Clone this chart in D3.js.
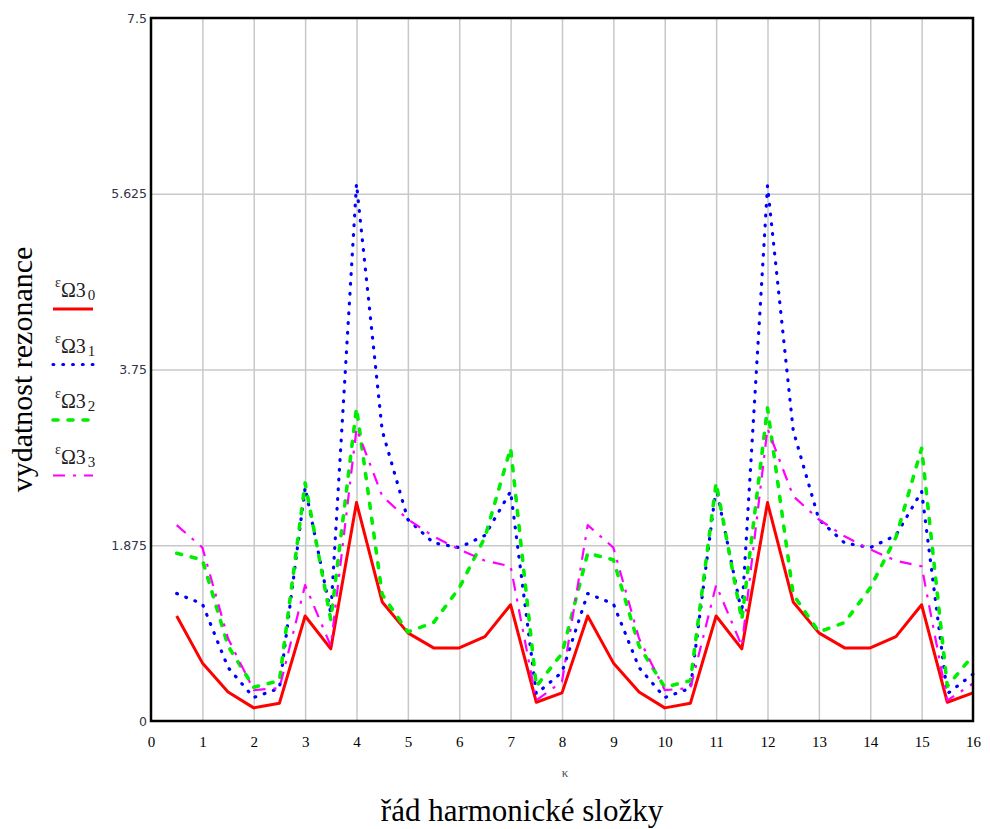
<!DOCTYPE html>
<html>
<head>
<meta charset="utf-8">
<script src="https://cdn.jsdelivr.net/npm/d3@7"></script>
<style>
  body { margin: 0; background: #fff; }
</style>
</head>
<body>
<div class="line-chart"></div>
<script>
// harmonic order (x values)
const kappa = [0.5, 1, 1.5, 2, 2.5, 3, 3.5, 4, 4.5, 5, 5.5, 6, 6.5, 7, 7.5, 8,
               8.5, 9, 9.5, 10, 10.5, 11, 11.5, 12, 12.5, 13, 13.5, 14, 14.5, 15, 15.5, 16];

const eps0 = [1.12, 0.62, 0.31, 0.14, 0.19, 1.12, 0.77, 2.33, 1.27, 0.94, 0.78, 0.78, 0.90, 1.24, 0.20, 0.30,
              1.12, 0.62, 0.31, 0.14, 0.19, 1.12, 0.77, 2.33, 1.27, 0.94, 0.78, 0.78, 0.90, 1.24, 0.20, 0.30];
const eps1 = [1.36, 1.25, 0.57, 0.25, 0.35, 2.49, 1.15, 5.73, 3.10, 2.15, 1.90, 1.85, 1.98, 2.45, 0.29, 0.52,
              1.36, 1.25, 0.57, 0.25, 0.35, 2.49, 1.15, 5.71, 3.10, 2.15, 1.90, 1.85, 1.98, 2.45, 0.29, 0.50];
const eps2 = [1.79, 1.72, 0.80, 0.36, 0.43, 2.54, 1.08, 3.34, 1.35, 0.95, 1.05, 1.42, 1.96, 2.91, 0.37, 0.72,
              1.79, 1.72, 0.80, 0.36, 0.43, 2.54, 1.08, 3.34, 1.35, 0.95, 1.05, 1.42, 1.96, 2.91, 0.37, 0.70];
const eps3 = [2.09, 1.85, 0.88, 0.33, 0.35, 1.45, 0.80, 3.12, 2.40, 2.15, 1.97, 1.83, 1.71, 1.65, 0.22, 0.42,
              2.09, 1.85, 0.88, 0.33, 0.35, 1.45, 0.80, 3.12, 2.40, 2.15, 1.97, 1.83, 1.71, 1.65, 0.22, 0.40];

const xTicks = d3.range(0, 17);
const yTicks = [0, 1.875, 3.75, 5.625, 7.5];
const seriesNames = ["0", "1", "2", "3"];

const margin = ({top: 18, right: 17, bottom: 108, left: 151});
const W = 990, H = 829;
const w = W - margin.left - margin.right;
const h = H - margin.top - margin.bottom;
const serif = "'Liberation Serif', 'Times New Roman', serif";

const styles = [
    {color: "#ff0000", width: 3, dash: null, cap: "butt"},
    {color: "#0000ff", width: 3.2, dash: "0.8,9", cap: "round"},
    {color: "#00ee00", width: 3.6, dash: "5,10", cap: "round"},
    {color: "#ff00ff", width: 2.2, dash: "12,8,3,8", cap: "butt"}
];

const series = [eps0, eps1, eps2, eps3].map((vals, i) => ({
    name: seriesNames[i],
    style: styles[i],
    values: kappa.map((k, j) => ({k: k, v: vals[j]}))
}));

const root = d3.select(".line-chart")
    .append("svg")
    .attr("width", W)
    .attr("height", H)
    .style("font-family", serif);

const svg = root.append("g")
    .attr("transform", "translate(" + margin.left + "," + margin.top + ")");

const xScale = d3.scaleLinear().domain([0, 16]).range([0, w]);
const yScale = d3.scaleLinear().domain([0, 7.5]).range([h, 0]);

// grid
svg.append("g")
    .attr("class", "grid x-grid")
    .attr("transform", `translate(0, ${h})`)
    .call(d3.axisBottom(xScale).tickValues(xTicks.slice(1, -1)).tickSize(-h).tickFormat(""))
    .call(g => g.select(".domain").remove())
    .selectAll(".tick line")
    .attr("stroke", "#c8c8c8")
    .attr("stroke-width", 1.5);

svg.append("g")
    .attr("class", "grid y-grid")
    .call(d3.axisLeft(yScale).tickValues(yTicks.slice(1, -1)).tickSize(-w).tickFormat(""))
    .call(g => g.select(".domain").remove())
    .selectAll(".tick line")
    .attr("stroke", "#c8c8c8")
    .attr("stroke-width", 1.5);

// lines
const line = d3.line()
    .x(d => xScale(d.k))
    .y(d => yScale(d.v));

svg.selectAll(".series")
    .data(series)
    .join("path")
    .attr("class", "series")
    .attr("fill", "none")
    .attr("stroke", d => d.style.color)
    .attr("stroke-width", d => d.style.width)
    .attr("stroke-dasharray", d => d.style.dash)
    .attr("stroke-linecap", d => d.style.cap)
    .attr("stroke-linejoin", "round")
    .attr("d", d => line(d.values));

// frame
svg.append("rect")
    .attr("x", 0)
    .attr("y", 0)
    .attr("width", w)
    .attr("height", h)
    .attr("fill", "none")
    .attr("stroke", "black")
    .attr("stroke-width", 2.5);

// axes labels
svg.append("g")
    .attr("class", "axis x-axis")
    .attr("transform", `translate(0, ${h})`)
    .call(d3.axisBottom(xScale).tickValues(xTicks).tickSize(0).tickPadding(15).tickFormat(d3.format("d")))
    .call(g => g.select(".domain").remove())
    .selectAll("text")
    .attr("font-family", serif)
    .attr("font-size", 15)
    .attr("fill", "black");

svg.append("g")
    .attr("class", "axis y-axis")
    .call(d3.axisLeft(yScale).tickValues(yTicks).tickSize(0).tickPadding(4).tickFormat(d => String(d)))
    .call(g => g.select(".domain").remove())
    .selectAll("text")
    .attr("font-family", "'DejaVu Sans', sans-serif")
    .attr("font-size", 12.5)
    .attr("fill", "#33334a");

root.append("text")
    .attr("x", margin.left + xScale(8) + 3)
    .attr("y", 777)
    .attr("text-anchor", "middle")
    .attr("font-family", serif)
    .attr("font-size", 13)
    .attr("fill", "#555")
    .text("κ");

root.append("text")
    .attr("x", 522)
    .attr("y", 821)
    .attr("text-anchor", "middle")
    .attr("font-family", serif)
    .attr("font-size", 31)
    .attr("fill", "black")
    .text("řád harmonické složky");

root.append("text")
    .attr("transform", `translate(32, ${margin.top + h / 2}) rotate(-90)`)
    .attr("text-anchor", "middle")
    .attr("font-family", serif)
    .attr("font-size", 30)
    .attr("fill", "black")
    .text("vydatnost rezonance");

// legend
const legend = root.append("g")
    .attr("class", "legend")
    .attr("transform", "translate(53, 297)");

const item = legend.selectAll(".item")
    .data(series)
    .join("g")
    .attr("class", "item")
    .attr("transform", (d, i) => `translate(0, ${i * 55.5})`);

const label = item.append("text")
    .attr("x", 2)
    .attr("y", 0)
    .attr("font-family", serif)
    .attr("fill", "#222");

label.append("tspan")
    .attr("font-size", 14)
    .attr("dy", -10)
    .text("ε");
label.append("tspan")
    .attr("font-size", 20)
    .attr("dy", 10)
    .text("Ω3");
label.append("tspan")
    .attr("font-size", 15)
    .attr("dx", 2)
    .attr("dy", 3)
    .text(d => d.name);

item.append("line")
    .attr("x1", 0)
    .attr("x2", 40)
    .attr("y1", 12)
    .attr("y2", 12)
    .attr("stroke", d => d.style.color)
    .attr("stroke-width", d => d.style.width)
    .attr("stroke-dasharray", d => d.style.dash)
    .attr("stroke-linecap", d => d.style.cap);
</script>
</body>
</html>
